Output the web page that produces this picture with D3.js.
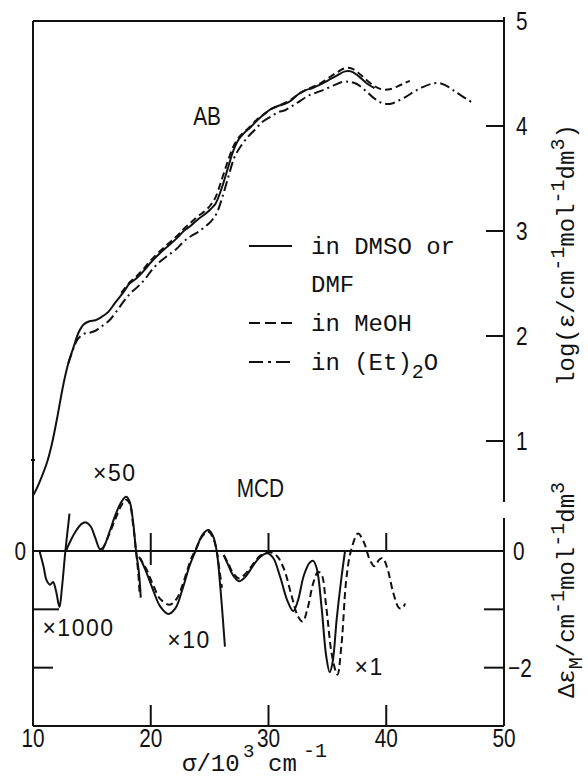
<!DOCTYPE html>
<html>
<head>
<meta charset="utf-8">
<script src="https://cdn.jsdelivr.net/npm/d3@7"></script>
<style>
	body { margin: 0; background: #fff; }
	svg { display: block; }
	.num { font-family: "Liberation Sans", "DejaVu Sans", sans-serif; font-size: 26px; fill: #111; }
	.mono { font-family: "Liberation Mono", "Courier New", monospace; font-size: 24px; fill: #111; }
	.factor { font-family: "Liberation Sans", sans-serif; font-size: 23px; letter-spacing: 1.5px; fill: #111; }
</style>
</head>
<body>
<div id="chart"></div>
<script>
// absorption, log(eps) against sigma / 10^3 cm-1
var abDmso = [[10.0,0.48],[10.2,0.52],[10.6,0.62],[11.2,0.80],[11.6,0.97],[12.0,1.19],[12.6,1.55],[13.0,1.74],[13.4,1.88],[13.9,2.04],[14.3,2.11],[14.8,2.14],[15.3,2.15],[15.8,2.18],[16.4,2.23],[17.0,2.32],[17.7,2.42],[18.2,2.50],[18.8,2.55],[19.4,2.62],[20.0,2.70],[20.8,2.79],[21.5,2.86],[22.2,2.93],[22.8,3.00],[23.4,3.05],[24.0,3.11],[24.6,3.16],[25.1,3.21],[25.5,3.26],[26.0,3.40],[26.5,3.58],[27.0,3.76],[27.4,3.86],[27.9,3.93],[28.5,3.99],[29.0,4.05],[29.6,4.11],[30.2,4.16],[30.8,4.19],[31.4,4.21],[31.9,4.24],[32.5,4.30],[33.1,4.34],[33.7,4.36],[34.3,4.39],[35.0,4.43],[35.8,4.48],[36.5,4.52],[37.0,4.52],[37.6,4.48],[38.3,4.41],[39.0,4.36]];
var abMeoh = [[17.5,2.41],[18.2,2.51],[18.8,2.57],[19.4,2.64],[20.0,2.72],[20.8,2.81],[21.5,2.88],[22.2,2.95],[22.8,3.02],[23.4,3.08],[24.0,3.14],[24.6,3.19],[25.1,3.25],[25.5,3.32],[26.0,3.48],[26.5,3.65],[27.0,3.80],[27.4,3.88],[27.9,3.94],[28.5,4.00],[29.0,4.06],[29.6,4.11],[30.2,4.16],[30.8,4.19],[31.4,4.22],[31.9,4.25],[32.5,4.30],[33.1,4.34],[33.7,4.37],[34.3,4.40],[35.0,4.45],[35.8,4.51],[36.5,4.55],[37.0,4.55],[37.6,4.51],[38.3,4.44],[39.0,4.38],[39.6,4.35],[40.3,4.35],[41.0,4.38],[41.6,4.41],[42.0,4.43]];
var abEther = [[13.0,1.74],[13.4,1.87],[13.8,1.97],[14.3,2.02],[14.8,2.03],[15.3,2.05],[15.8,2.09],[16.4,2.14],[17.0,2.22],[17.7,2.33],[18.3,2.41],[18.9,2.47],[19.5,2.54],[20.1,2.63],[20.8,2.71],[21.5,2.77],[22.2,2.83],[22.8,2.90],[23.4,2.95],[24.0,2.99],[24.6,3.04],[25.1,3.09],[25.6,3.17],[26.1,3.33],[26.6,3.52],[27.1,3.70],[27.6,3.80],[28.2,3.89],[28.8,3.96],[29.5,4.04],[30.2,4.09],[30.8,4.13],[31.4,4.15],[32.0,4.19],[32.7,4.24],[33.4,4.29],[34.1,4.32],[34.8,4.35],[35.6,4.39],[36.3,4.42],[36.9,4.42],[37.5,4.40],[38.2,4.34],[38.9,4.27],[39.6,4.22],[40.3,4.21],[41.0,4.24],[41.7,4.28],[42.4,4.33],[43.1,4.37],[43.8,4.40],[44.4,4.41],[45.0,4.39],[45.7,4.34],[46.5,4.28],[47.5,4.21]];

// MCD, delta eps_M as drawn (each piece at its own magnification)
var mcdDmsoX1000 = [[10.55,0],[10.9,-0.27],[11.15,-0.50],[11.45,-0.58],[11.7,-0.53],[11.95,-0.68],[12.25,-0.96],[12.45,-0.65],[12.75,0],[13.1,0.64]];
var mcdDmsoX50 = [[12.8,0],[13.2,0.18],[13.7,0.36],[14.1,0.46],[14.5,0.49],[14.9,0.42],[15.3,0.22],[15.7,0.03],[16.0,0.07],[16.5,0.33],[17.0,0.62],[17.5,0.84],[17.9,0.93],[18.2,0.85],[18.5,0.50],[18.75,0],[19.0,-0.38],[19.15,-0.8]];
var mcdMeohX50 = [[15.9,0.02],[16.4,0.25],[17.0,0.55],[17.5,0.78],[17.9,0.88],[18.2,0.82],[18.5,0.45],[18.75,0],[18.95,-0.4],[19.05,-0.72]];
var mcdDmsoX10 = [[19.1,-0.12],[19.6,-0.35],[20.2,-0.67],[20.8,-0.95],[21.5,-1.08],[22.1,-0.98],[22.7,-0.65],[23.3,-0.25],[23.8,0],[24.4,0.28],[24.9,0.36],[25.3,0.25],[25.6,0],[25.9,-0.6],[26.3,-1.64]];
var mcdMeohX10 = [[19.0,-0.1],[19.6,-0.3],[20.2,-0.58],[20.8,-0.82],[21.6,-0.92],[22.2,-0.82],[22.8,-0.52],[23.4,-0.15],[23.8,0.02],[24.4,0.26],[24.9,0.33],[25.3,0.22],[25.6,0],[25.85,-0.35],[26.05,-0.63]];
var mcdDmsoX1 = [[26.2,-0.07],[26.6,-0.25],[27.0,-0.42],[27.5,-0.52],[28.0,-0.45],[28.6,-0.28],[29.2,-0.12],[29.9,-0.04],[30.4,-0.12],[31.0,-0.45],[31.6,-0.85],[32.1,-1.03],[32.5,-0.85],[33.0,-0.42],[33.5,-0.2],[33.8,-0.17],[34.1,-0.3],[34.5,-0.95],[34.9,-1.8],[35.2,-2.08],[35.45,-1.9],[35.8,-1.15],[36.2,-0.45],[36.5,0]];
var mcdMeohX1 = [[26.2,-0.07],[26.6,-0.22],[27.0,-0.38],[27.5,-0.47],[28.0,-0.4],[28.6,-0.25],[29.3,-0.08],[30.1,-0.02],[30.7,-0.08],[31.3,-0.3],[31.9,-0.72],[32.5,-1.12],[32.9,-1.21],[33.3,-1.0],[33.8,-0.55],[34.2,-0.36],[34.5,-0.4],[34.9,-0.95],[35.4,-1.8],[35.85,-2.12],[36.2,-1.6],[36.6,-0.5],[37.0,0],[37.6,0.3],[38.1,0.15],[38.6,-0.15],[39.0,-0.26],[39.4,-0.15],[39.7,-0.12],[40.1,-0.3],[40.6,-0.72],[41.1,-0.98],[41.4,-0.97],[41.6,-0.9]];

// ticks and labels
var sigmaTicks = [10, 20, 30, 40, 50];
var abTicks = [1, 2, 3, 4, 5];
var mcdTicks = [0, -1, -2];
var mcdTickLabels = { "0": "0", "-2": "\u22122" };
var legendItems = ["solid", "dashed", "dashdot"];
var factorLabels = ["\u00d71000", "\u00d750", "\u00d710", "\u00d71"];

var DASH = { solid: null, dashed: "7,4", dashdot: "10,4,2,4" };

/**
 * @class
 * Renders AB / MCD spectra in one frame
 */
class SpectrumRenderer {
	constructor(options) {
		this._options = options;
		this._svgEl = null;
		this._groupEl = null;

		// shared sigma scale, two value scales stacked in one frame
		this._x = d3.scaleLinear().domain([10, 50]).range([33, 504]);
		this._yAb = d3.scaleLinear().domain([0, 5]).range([546, 21]);
		this._yMcd = d3.scaleLinear().domain([-3, 0]).range([726, 551]);
	}

	render(selector) {
		this._svgEl = d3.select(selector).append("svg")
			.attr("width", this._options.width)
			.attr("height", this._options.height);
		this._groupEl = this._svgEl.append("g");

		this._renderFrame();
		this._renderTickLabels();
		this._renderAbCurves();
		this._renderMcdCurves();
		this._renderLegend();
		this._renderTitles();
		return this;
	}

	_line(x1, y1, x2, y2) {
		return this._groupEl.append("line")
			.attr("x1", x1).attr("y1", y1)
			.attr("x2", x2).attr("y2", y2)
			.attr("stroke", "#111")
			.attr("stroke-width", 2);
	}

	/**
	 * @private
	 * Narrow plotter-like numbers: regular sans squeezed horizontally
	 */
	_num(x, y, text, anchor, size) {
		return this._groupEl.append("text").attr("class", "num")
			.attr("transform", "translate(" + x + "," + y + ") scale(0.8,1)")
			.attr("text-anchor", anchor || "start")
			.attr("font-size", size || null)
			.text(text);
	}

	/**
	 * @private
	 * Frame, zero line and the tick marks
	 */
	_renderFrame() {
		var x = this._x, yAb = this._yAb, yMcd = this._yMcd;
		var left = x(10), right = x(50), top = yAb(5), bottom = yMcd(-3);

		this._line(left, top, right, top);
		this._line(left, top, left, bottom);
		this._line(left, bottom, right, bottom);
		// right axis has a small break between the two parts
		this._line(right, top - 4, right, 502);
		this._line(right, 518, right, bottom);
		this._line(left, yMcd(0), right, yMcd(0));
		// small stray mark on the left axis
		this._line(left - 2, 460, left + 2, 460);

		abTicks.filter(d => d < 5).forEach(d => this._line(right - 18, yAb(d), right, yAb(d)));
		mcdTicks.filter(d => d < 0).forEach(d => this._line(right - 20, yMcd(d), right, yMcd(d)));
		this._line(left, yMcd(-1), left + 26, yMcd(-1));
		this._line(left, yMcd(-2), left + 20, yMcd(-2));

		sigmaTicks.slice(1, -1).forEach(d => {
			this._line(x(d), bottom, x(d), bottom - 21);
			this._line(x(d), yMcd(0) - 18, x(d), yMcd(0) + (d == 20 ? 14 : 0));
		});
	}

	_renderTickLabels() {
		var x = this._x, yAb = this._yAb, yMcd = this._yMcd;

		sigmaTicks.forEach(d => this._num(x(d), yMcd(-3) + 21, d, "middle"));
		abTicks.forEach(d => this._num(x(50) + 12, yAb(d) + 9, d));
		mcdTicks.filter(d => mcdTickLabels[d]).forEach(d => {
			this._num(x(50) + (d == 0 ? 9 : 4), yMcd(d) + 9, mcdTickLabels[d]);
		});
		this._num(x(10) - 7, yMcd(0) + 9, "0", "end");
	}

	_path(data, yScale, dash) {
		var x = this._x;
		var line = d3.line()
			.curve(d3.curveCatmullRom.alpha(0.5))
			.x(d => x(d[0]))
			.y(d => yScale(d[1]));
		this._groupEl.append("path")
			.datum(data)
			.attr("fill", "none")
			.attr("stroke", "#111")
			.attr("stroke-width", 2)
			.attr("stroke-linejoin", "round")
			.attr("stroke-dasharray", dash)
			.attr("d", line);
	}

	_renderAbCurves() {
		this._path(abDmso, this._yAb, DASH.solid);
		this._path(abMeoh, this._yAb, DASH.dashed);
		this._path(abEther, this._yAb, DASH.dashdot);
	}

	_renderMcdCurves() {
		var y = this._yMcd;
		[mcdDmsoX1000, mcdDmsoX50, mcdDmsoX10, mcdDmsoX1].forEach(d => this._path(d, y, DASH.solid));
		[mcdMeohX50, mcdMeohX10, mcdMeohX1].forEach(d => this._path(d, y, DASH.dashed));

		// magnification notes next to each piece
		var spots = [[10.8, -1.46], [15.1, 1.2], [21.4, -1.66], [37.3, -2.13]];
		factorLabels.forEach((t, i) => {
			this._groupEl.append("text").attr("class", "factor")
				.attr("x", this._x(spots[i][0])).attr("y", y(spots[i][1]))
				.text(t);
		});
	}

	_renderLegend() {
		var g = this._groupEl;
		var rows = [254, 331, 370];
		var texts = ["in DMSO or", "in MeOH", "in (Et)"];
		legendItems.forEach((key, i) => {
			g.append("line")
				.attr("x1", 249).attr("x2", 292)
				.attr("y1", rows[i] - 8).attr("y2", rows[i] - 8)
				.attr("stroke", "#111").attr("stroke-width", 2)
				.attr("stroke-dasharray", key == "dashed" ? "11,5" : key == "dashdot" ? "14,5,3,5" : null);
			var t = g.append("text").attr("class", "mono")
				.attr("x", 311).attr("y", rows[i]).text(texts[i]);
			if (key == "dashdot") {
				t.append("tspan").attr("dy", 8).attr("font-size", 20).text("2");
				t.append("tspan").attr("dy", -8).text("O");
			}
		});
		g.append("text").attr("class", "mono").attr("x", 311).attr("y", 292).text("DMF");

		this._num(this._x(23.6), this._yAb(4.01), "AB", "start", 27);
		this._num(this._x(27.3), this._yMcd(0.93), "MCD", "start", 27);
	}

	/**
	 * @private
	 * Axis titles with super/subscripts
	 */
	_renderTitles() {
		var g = this._groupEl;
		var addParts = function(t, parts) {
			parts.forEach(p => {
				var s = t.append("tspan").text(p[0]);
				if (p[1]) s.attr("dy", p[1]);
				if (p[2]) s.attr("font-size", p[2]);
				if (p[3]) s.attr("x", p[3]);
			});
		};

		var t1 = g.append("text").attr("class", "mono")
			.attr("text-anchor", "middle")
			.attr("transform", "translate(574,255) rotate(-90)");
		addParts(t1, [["log(\u03b5/cm"], ["-1", -10, 20], ["mol", 10], ["-1", -10, 20], ["dm", 10], ["3", -10, 20], [")", 10]]);

		var t2 = g.append("text").attr("class", "mono")
			.attr("text-anchor", "middle")
			.attr("transform", "translate(574,590) rotate(-90)");
		addParts(t2, [["\u0394\u03b5"], ["M", 8, 20], ["/cm", -8], ["-1", -10, 20], ["mol", 10], ["-1", -10, 20], ["dm", 10], ["3", -10, 20]]);

		// bottom title, spread out the way the original lettering is
		var t3 = g.append("text").attr("class", "mono")
			.attr("font-size", 23)
			.attr("y", 771);
		addParts(t3, [["\u03c3/10", 0, null, 182], ["3", -14, 19, 243], ["cm", 14, null, 268], ["-1", -14, 20, 303]]);
	}
}

new SpectrumRenderer({ width: 588, height: 778 }).render("#chart");
</script>
</body>
</html>
